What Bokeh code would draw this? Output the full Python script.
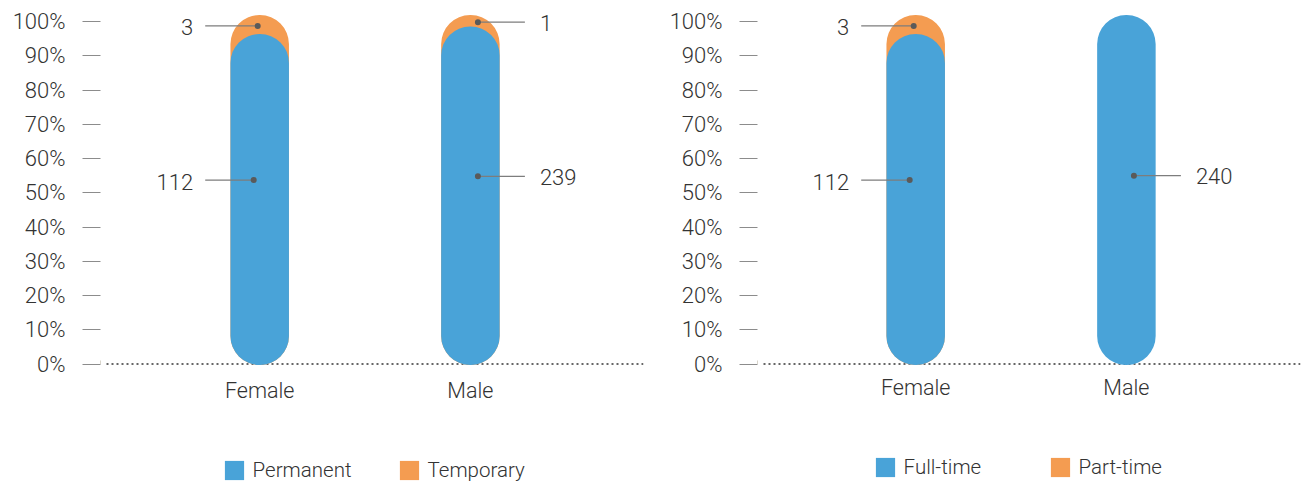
from bokeh.plotting import figure
from bokeh.layouts import row
from bokeh.models import Range1d, FixedTicker, Legend, LegendItem
from bokeh.embed import file_html
from bokeh.resources import INLINE
from bokeh.core.properties import value

# ---------------- data ----------------
categories = ["Female", "Male"]
permanent = [112, 239]
temporary = [3, 1]
full_time = [112, 240]
part_time = [3, 0]
y_ticks = [0, 10, 20, 30, 40, 50, 60, 70, 80, 90, 100]
y_tick_labels = ["0%", "10%", "20%", "30%", "40%", "50%", "60%", "70%", "80%", "90%", "100%"]

# ---------------- style ----------------
BLUE = "#49a3d8"
ORANGE = "#f49c51"
TEXT = "#333333"
GRAY = "#7d7d7d"
FONT = "Roboto Light, Roboto, sans-serif"
H = 484
PXY = 100 / 342.5      # data units per pixel (y)
XPX = 1 / 210.7        # data units per pixel (x)
ZERO_PX = 363.5        # pixel row of 0%
TOP_PX = 21            # pixel row of 100%


def panel(lower, upper, lower_name, upper_name, fig_w, frame_left, right_margin,
          legend_loc, xlabel_dy, first_center_px):
    frame_w = fig_w - frame_left - right_margin
    x_start = -first_center_px * XPX
    x_end = x_start + frame_w * XPX
    y_start = -(H - ZERO_PX) * PXY
    y_end = 100 + TOP_PX * PXY

    p = figure(width=fig_w, height=H, x_range=Range1d(x_start, x_end),
               y_range=Range1d(y_start, y_end), output_backend="svg",
               toolbar_location=None, x_axis_location=None,
               min_border_left=frame_left, min_border_right=right_margin,
               min_border_top=0, min_border_bottom=0)
    p.grid.visible = False
    p.outline_line_color = None
    p.background_fill_color = "white"
    p.border_fill_color = "white"

    ax = p.yaxis[0]
    ax.ticker = FixedTicker(ticks=y_ticks)
    ax.major_label_overrides = {t: l for t, l in zip(y_ticks, y_tick_labels)}
    ax.axis_line_color = None
    ax.major_tick_in = 0
    ax.major_tick_out = 18
    ax.major_tick_line_color = "#8c8c8c"
    ax.major_tick_line_width = 1
    ax.minor_tick_line_color = None
    ax.major_label_standoff = 17
    ax.major_label_text_font_size = "22px"
    ax.major_label_text_font = FONT
    ax.major_label_text_color = TEXT

    # dotted baseline
    p.segment(x0=[x_start + 6 * XPX], x1=[x_end], y0=[0], y1=[0],
              line_color="#666666", line_width=2, line_dash="2 3")

    xs = list(range(len(categories)))
    bar_w = 58.5 * XPX
    tot = [a + b for a, b in zip(lower, upper)]
    pct_low = [a / t * 100 for a, t in zip(lower, tot)]
    over = 6.5 * PXY
    inset = 3.5 * PXY

    # upper (orange) capsules behind
    ux = [x for x, u in zip(xs, upper) if u > 0]
    p.vbar(x=ux, bottom=[-1 * PXY] * len(ux), top=[100 + over] * len(ux), width=bar_w,
           fill_color=ORANGE, line_color=None, border_radius=29)
    # lower (blue) capsules
    btop = [pl - inset if u > 0 else 100 + over for pl, u in zip(pct_low, upper)]
    p.vbar(x=xs, bottom=[-1 * PXY] * len(xs), top=btop, width=bar_w,
           fill_color=BLUE, line_color=None, border_radius=29)

    # legend swatches (one off-screen point each, drawn only in the legend)
    off = x_start - 5
    r1 = p.vbar(x=[off], bottom=[0], top=[1], width=bar_w, fill_color=BLUE, line_color=None)
    r2 = p.vbar(x=[off], bottom=[0], top=[1], width=bar_w, fill_color=ORANGE, line_color=None)

    # category labels
    p.text(x=xs, y=[-xlabel_dy * PXY] * len(xs), text=categories, text_align="center",
           text_baseline="middle", text_font_size="21.5px", text_color=TEXT,
           text_font=value(FONT))

    # annotations
    dots_x, dots_y, lx0, lx1, ly = [], [], [], [], []
    tl_x, tl_y, tl_t = [], [], []
    tr_x, tr_y, tr_t = [], [], []
    for i, (lo, up, pl) in enumerate(zip(lower, upper, pct_low)):
        side = -1 if i == 0 else 1
        segs = [(lo, pl / 2 + 5, -6 if side < 0 else 7.5)]
        if up > 0:
            segs.append((up, (pl + 100) / 2, -2 if side < 0 else 7.5))
        for v, yy, dx in segs:
            dxp = i + dx * XPX
            end = i + side * 54.5 * XPX
            dots_x.append(dxp); dots_y.append(yy)
            lx0.append(dxp); lx1.append(end); ly.append(yy)
            if side < 0:
                tl_x.append(i - (54.5 + 12) * XPX); tl_y.append(yy - 1.5 * PXY); tl_t.append(str(v))
            else:
                tr_x.append(i + (54.5 + 15) * XPX); tr_y.append(yy - 0.5 * PXY); tr_t.append(str(v))
    p.segment(x0=lx0, x1=lx1, y0=ly, y1=ly, line_color=GRAY, line_width=1.3)
    p.scatter(x=dots_x, y=dots_y, size=6, fill_color="#5a5a5a", line_color=None)
    p.text(x=tl_x, y=tl_y, text=tl_t, text_align="right", text_baseline="middle",
           text_font_size="22px", text_color=TEXT, text_font=value(FONT))
    p.text(x=tr_x, y=tr_y, text=tr_t, text_align="left", text_baseline="middle",
           text_font_size="22px", text_color=TEXT, text_font=value(FONT))

    legend = Legend(items=[LegendItem(label=lower_name, renderers=[r1]),
                           LegendItem(label=upper_name, renderers=[r2])],
                    location=legend_loc, orientation="horizontal",
                    glyph_width=24, glyph_height=24, label_standoff=7,
                    label_width=144, label_height=24, spacing=0, padding=0, margin=0,
                    border_line_color=None, background_fill_alpha=0,
                    label_text_font_size="20.5px", label_text_font=FONT,
                    label_text_color=TEXT)
    p.add_layout(legend)
    return p


p1 = panel(permanent, temporary, "Permanent", "Temporary", 650, 100, 7,
           (121.6, 2.4), 26.5, 159.2)
p2 = panel(full_time, part_time, "Full-time", "Part-time", 656, 107, 6,
           (115.6, 5.4), 23.5, 158.2)

layout = row(p1, p2)
open("out.html", "w").write(file_html(layout, INLINE))
